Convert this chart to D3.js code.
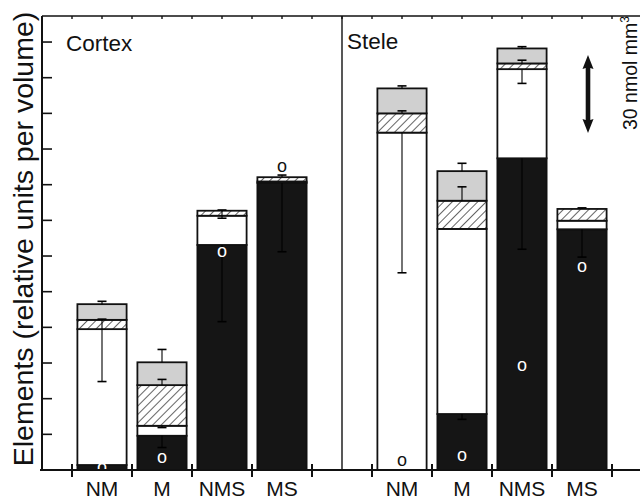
<!DOCTYPE html>
<html lang="en">
<head>
  <meta charset="UTF-8" />
  <title>Elements per volume</title>
  <style>
    body { margin: 0; background: #fff; }
    svg { display: block; font-family: "Liberation Sans", Arial, sans-serif; }
  </style>
</head>
<body>
  <svg id="chart" width="640" height="499"></svg>

  <script src="https://d3js.org/d3.v7.min.js"></script>
  <script>
    // tissue panels and treatments
    const groups = ["Cortex", "Stele"];
    const cats = ["NM", "M", "NMS", "MS"];

    // stacked segment heights (relative units), cortex first then stele
    const black = [1.4, 9.6, 63.1, 80.5, 0, 15.7, 87.4, 67.5];
    const white = [38.1, 2.8, 8.2, 0.4, 94.6, 51.9, 25.0, 2.4];
    const hatch = [2.6, 11.4, 1.4, 1.2, 5.4, 7.9, 1.6, 3.3];
    const grey  = [4.4, 6.4, 0, 0, 7.0, 8.3, 4.2, 0];

    // error bars: [bar index, from, to]
    const errBars = [
      [0, 46.5, 47.3], [0, 39.5, 42.3], [0, 39.5, 24.8],
      [1, 30.2, 33.8], [1, 23.8, 25.4], [1, 12.4, 11.9], [1, 9.6, 6.3],
      [2, 71.3, 72.9], [2, 71.3, 70.6], [2, 63.1, 41.6],
      [3, 82.1, 82.7], [3, 80.5, 61.2],
      [4, 107.0, 107.7], [4, 100.0, 100.7], [4, 94.6, 55.3],
      [5, 83.8, 86.0], [5, 75.5, 79.4], [5, 15.7, 14.2],
      [6, 118.2, 118.7], [6, 114.0, 114.9], [6, 112.4, 108.4], [6, 87.4, 61.9],
      [7, 73.2, 73.5], [7, 67.5, 59.7]
    ];

    // "o" markers: [bar index, value, colour]
    const marks = [
      [0, 0.6, "#fff"], [1, 3.4, "#fff"], [2, 61.2, "#fff"], [3, 85.0, "#111"],
      [4, 2.5, "#111"], [5, 4.0, "#fff"], [6, 29.0, "#fff"], [7, 56.8, "#fff"]
    ];

    const yTicks = [10, 20, 30, 40, 50, 60, 70, 80, 90, 100, 110, 120];

    const svg = d3.select("#chart");
    const mLeft = 42, mTop = 16, mBottom = 470, mRight = 640;

    const x0 = d3.scaleBand().domain(groups).range([72, 612]).paddingInner(0.2);
    const x1 = d3.scaleBand().domain(cats).range([0, x0.bandwidth()])
      .paddingInner(0.18).paddingOuter(0.09);
    const y = d3.scaleLinear().domain([0, 127.3]).range([mBottom, mTop]);

    const rows = [];
    groups.forEach((g, gi) => cats.forEach((c, ci) => {
      const i = gi * cats.length + ci;
      rows.push({ g, c, black: black[i], white: white[i], hatch: hatch[i], grey: grey[i] });
    }));
    const xc = i => x0(rows[i].g) + x1(rows[i].c) + x1.bandwidth() / 2;

    const defs = svg.append("defs");
    const pat = defs.append("pattern")
      .attr("id", "hatch").attr("patternUnits", "userSpaceOnUse")
      .attr("width", 6).attr("height", 6)
      .attr("patternTransform", "rotate(45)");
    pat.append("rect").attr("width", 6).attr("height", 6).attr("fill", "#fff");
    pat.append("line").attr("x1", 0).attr("y1", 0).attr("x2", 0).attr("y2", 6)
      .attr("stroke", "#111").attr("stroke-width", 1.3);

    const fills = { black: "#151515", white: "#fff", hatch: "url(#hatch)", grey: "#d0d0d0" };
    const keys = ["black", "white", "hatch", "grey"];
    const stack = d3.stack().keys(keys)(rows);

    // bars
    stack.forEach(layer => {
      svg.append("g").selectAll("rect")
        .data(layer.filter(d => d[1] - d[0] > 0))
        .join("rect")
        .attr("x", d => x0(d.data.g) + x1(d.data.c))
        .attr("width", x1.bandwidth())
        .attr("y", d => y(d[1]))
        .attr("height", d => y(d[0]) - y(d[1]))
        .attr("fill", fills[layer.key])
        .attr("stroke", "#111")
        .attr("stroke-width", 1.8);
    });

    // error bars
    const eg = svg.append("g").attr("stroke", "#000").attr("stroke-width", 1.1);
    errBars.forEach(([i, from, to]) => {
      const cx = xc(i);
      eg.append("line").attr("x1", cx).attr("x2", cx).attr("y1", y(from)).attr("y2", y(to));
      eg.append("line").attr("x1", cx - 4.5).attr("x2", cx + 4.5).attr("y1", y(to)).attr("y2", y(to))
        .attr("stroke-width", 1.6);
    });

    // o markers
    svg.append("g").selectAll("text")
      .data(marks)
      .join("text")
      .attr("x", d => xc(d[0]))
      .attr("y", d => y(d[1]))
      .attr("dy", "0.27em")
      .attr("text-anchor", "middle")
      .attr("font-size", 18)
      .attr("fill", d => d[2])
      .text("o");

    // frame and axes
    const ax = svg.append("g").attr("stroke", "#111").attr("stroke-width", 2);
    ax.append("line").attr("x1", mLeft).attr("x2", mRight).attr("y1", mTop).attr("y2", mTop).attr("stroke-width", 1.6);
    ax.append("line").attr("x1", mLeft).attr("x2", mLeft).attr("y1", mTop).attr("y2", mBottom);
    ax.append("line").attr("x1", 40).attr("x2", mRight).attr("y1", mBottom).attr("y2", mBottom);

    // left ticks, pointing inward
    ax.selectAll("line.yt").data(yTicks).join("line").attr("class", "yt")
      .attr("x1", mLeft).attr("x2", mLeft + 10)
      .attr("y1", d => y(d)).attr("y2", d => y(d)).attr("stroke-width", 1.6);

    // panel separator
    const sep = x0("Stele") - x0.step() * x0.paddingInner() / 2;
    ax.append("line").attr("x1", sep).attr("x2", sep).attr("y1", mTop).attr("y2", mBottom).attr("stroke-width", 1.4);

    // bottom ticks at category edges, top ticks every half category
    const edges = [], halves = [];
    groups.forEach(g => d3.range(cats.length + 1).forEach(k => edges.push(x0(g) + k * x1.step())));
    const [r0, r1] = x0.range();
    for (let v = r0; v <= r1 + 0.1; v += x1.step() / 2) halves.push(v);
    ax.selectAll("line.bt").data(edges).join("line").attr("class", "bt")
      .attr("x1", d => d).attr("x2", d => d).attr("y1", mBottom - 6).attr("y2", mBottom + 7);
    ax.selectAll("line.tt").data(halves).join("line").attr("class", "tt")
      .attr("x1", d => d).attr("x2", d => d).attr("y1", mTop).attr("y2", mTop + 3).attr("stroke-width", 1.4);

    // category labels
    svg.append("g").selectAll("text")
      .data(rows)
      .join("text")
      .attr("x", (d, i) => xc(i))
      .attr("y", 496)
      .attr("text-anchor", "middle")
      .attr("font-size", 21)
      .attr("fill", "#111")
      .text(d => d.c);

    // panel titles
    svg.append("text").attr("x", 66).attr("y", 51).attr("font-size", 22.5).attr("fill", "#111").text("Cortex");
    svg.append("text").attr("x", 347).attr("y", 49).attr("font-size", 22.5).attr("fill", "#111").text("Stele");

    // y label
    svg.append("text")
      .attr("transform", "translate(33,239) rotate(-90)")
      .attr("text-anchor", "middle")
      .attr("font-size", 28.5)
      .attr("fill", "#111")
      .text("Elements (relative units per volume)");

    // scale arrow, 30 nmol mm-3
    const ag = svg.append("g").attr("fill", "#111");
    const axx = 588, ya = 55, yb = 133;
    ag.append("path").attr("d",
      `M${axx},${ya} L${axx + 5.5},${ya + 14} L${axx + 2.3},${ya + 13} L${axx + 2.3},${yb - 13}` +
      ` L${axx + 5.5},${yb - 14} L${axx},${yb} L${axx - 5.5},${yb - 14} L${axx - 2.3},${yb - 13}` +
      ` L${axx - 2.3},${ya + 13} L${axx - 5.5},${ya + 14} Z`);
    const lab = svg.append("text")
      .attr("transform", "translate(637,130) rotate(-90)")
      .attr("font-size", 19.5)
      .attr("fill", "#111");
    lab.append("tspan").text("30 nmol mm");
    lab.append("tspan").attr("font-size", 12).attr("dy", -8).text("3");
  </script>
</body>
</html>
